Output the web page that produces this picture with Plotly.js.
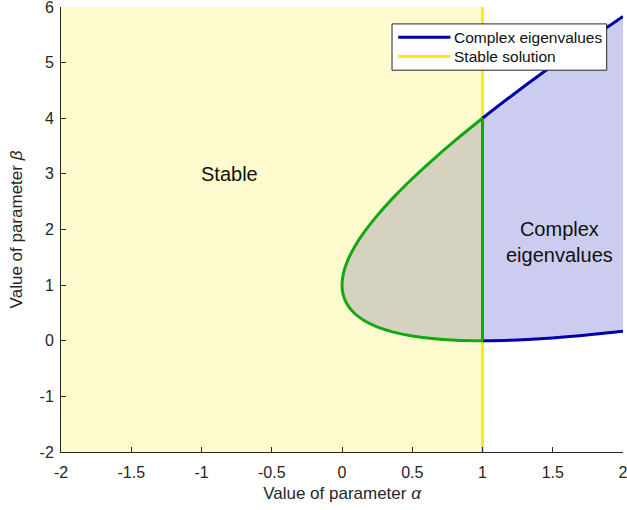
<!DOCTYPE html>
<html>
<head>
<meta charset="utf-8">
<script src="https://cdn.plot.ly/plotly-3.0.1.min.js"></script>
<style>
  html, body { margin: 0; padding: 0; background: #ffffff; }
  #chart { width: 627px; height: 510px; }
</style>
</head>
<body>
<div id="chart"></div>
<script>
// Boundary of the complex-eigenvalue region: beta on the upper and lower branch for each alpha
const alphaInner = [1.00, 0.81, 0.64, 0.49, 0.36, 0.25, 0.16, 0.09, 0.04, 0.01, 0.00];
const betaInnerLow = [0.00, 0.01, 0.04, 0.09, 0.16, 0.25, 0.36, 0.49, 0.64, 0.81, 1.00];
const betaInnerHigh = [4.00, 3.61, 3.24, 2.89, 2.56, 2.25, 1.96, 1.69, 1.44, 1.21, 1.00];

const alphaOuter = [1.00, 1.21, 1.44, 1.69, 1.96, 2.00];
const betaOuterHigh = [4.00, 4.41, 4.84, 5.29, 5.76, 5.83];
const betaOuterLow = [0.00, 0.01, 0.04, 0.09, 0.16, 0.17];

// Stable region: alpha from the left edge up to the stability limit
const stableAlpha = [-2, 1];
const betaRange = [-2, 6];
const alphaRange = [-2, 2];

const xTicks = [-2, -1.5, -1, -0.5, 0, 0.5, 1, 1.5, 2];
const xTickText = ['-2', '-1.5', '-1', '-0.5', '0', '0.5', '1', '1.5', '2'];
const yTicks = [-2, -1, 0, 1, 2, 3, 4, 5, 6];
const yTickText = ['-2', '-1', '0', '1', '2', '3', '4', '5', '6'];

const regionLabels = ['Stable', 'Complex<br>eigenvalues'];
const regionLabelAlpha = [-0.8, 1.55];
const regionLabelBeta = [3.0, 1.78];

const legendNames = ['Complex eigenvalues', 'Stable solution'];

const C_YELLOW_FILL = '#fefbcf';
const C_BLUE_FILL = '#cbccef';
const C_GRAY_FILL = '#d5d2c0';
const C_GREEN = '#12a812';
const C_BLUE = '#0000aa';
const C_YELLOW = '#ffee00';
const C_TEXT = '#262626';
const FONT = 'Liberation Sans, Arial, sans-serif';

// closed outline of the parabola-shaped region left of alpha = 1
const innerPathX = alphaInner.concat(alphaInner.slice().reverse());
const innerPathY = betaInnerLow.concat(betaInnerHigh.slice().reverse());
// curve only (lower branch, vertex, upper branch)
const innerCurveX = alphaInner.concat(alphaInner.slice(0, -1).reverse());
const innerCurveY = betaInnerLow.concat(betaInnerHigh.slice(0, -1).reverse());

const outerPathX = alphaOuter.concat(alphaOuter.slice().reverse());
const outerPathY = betaOuterHigh.concat(betaOuterLow.slice().reverse());

const traces = [
  { // stable half-plane
    x: [stableAlpha[0], stableAlpha[1], stableAlpha[1], stableAlpha[0]],
    y: [betaRange[0], betaRange[0], betaRange[1], betaRange[1]],
    mode: 'lines', fill: 'toself', fillcolor: C_YELLOW_FILL,
    line: { width: 0 }, hoverinfo: 'skip', showlegend: false
  },
  { // stable and complex
    x: innerPathX, y: innerPathY,
    mode: 'lines', fill: 'toself', fillcolor: C_GRAY_FILL,
    line: { width: 0 }, hoverinfo: 'skip', showlegend: false
  },
  { // complex only
    x: outerPathX, y: outerPathY,
    mode: 'lines', fill: 'toself', fillcolor: C_BLUE_FILL,
    line: { width: 0 }, hoverinfo: 'skip', showlegend: false
  },
  { // stability limit
    x: [stableAlpha[1], stableAlpha[1]], y: betaRange,
    mode: 'lines', line: { color: C_YELLOW, width: 3 },
    hoverinfo: 'skip', showlegend: false
  },
  {
    x: alphaOuter, y: betaOuterHigh,
    mode: 'lines', line: { color: C_BLUE, width: 3, shape: 'spline' },
    hoverinfo: 'skip', showlegend: false
  },
  {
    x: alphaOuter, y: betaOuterLow,
    mode: 'lines', line: { color: C_BLUE, width: 3, shape: 'spline' },
    hoverinfo: 'skip', showlegend: false
  },
  {
    x: innerCurveX, y: innerCurveY,
    mode: 'lines', line: { color: C_GREEN, width: 3, shape: 'spline', smoothing: 1 },
    hoverinfo: 'skip', showlegend: false
  },
  {
    x: [alphaInner[0], alphaInner[0]], y: [betaInnerLow[0], betaInnerHigh[0]],
    mode: 'lines', line: { color: C_GREEN, width: 3 },
    hoverinfo: 'skip', showlegend: false
  }
];

// legend drawn as a box in paper coordinates
const lgX0 = 0.589, lgX1 = 0.971, lgY0 = 0.858, lgY1 = 0.962;
const lgLineX0 = 0.600, lgLineX1 = 0.693;
const lgRowY = [0.932, 0.889];
const legendColors = [C_BLUE, C_YELLOW];

const shapes = [
  { type: 'rect', xref: 'paper', yref: 'paper', x0: lgX0, x1: lgX1, y0: lgY0, y1: lgY1,
    fillcolor: '#ffffff', line: { color: '#262626', width: 1 } }
];
legendColors.forEach((c, i) => {
  shapes.push({ type: 'line', xref: 'paper', yref: 'paper',
    x0: lgLineX0, x1: lgLineX1, y0: lgRowY[i], y1: lgRowY[i],
    line: { color: c, width: 3 } });
});

const annotations = [];
regionLabels.forEach((t, i) => {
  annotations.push({ x: regionLabelAlpha[i], y: regionLabelBeta[i], xref: 'x', yref: 'y',
    text: t, showarrow: false, font: { family: FONT, size: 20, color: '#111111' } });
});
legendNames.forEach((t, i) => {
  annotations.push({ x: lgLineX1 + 0.002, y: lgRowY[i], xref: 'paper', yref: 'paper',
    xanchor: 'left', yanchor: 'middle', text: t, showarrow: false,
    font: { family: FONT, size: 15.5, color: '#111111' } });
});

const axisCommon = {
  showgrid: false, zeroline: false, showline: true,
  linecolor: C_TEXT, linewidth: 1,
  ticks: 'inside', ticklen: 5, tickcolor: C_TEXT, tickwidth: 1,
  tickfont: { family: FONT, size: 16, color: C_TEXT },
  ticklabeloverflow: 'allow',
  fixedrange: true
};

const layout = {
  width: 627, height: 510,
  margin: { l: 61, r: 4, t: 7, b: 58 },
  paper_bgcolor: '#ffffff', plot_bgcolor: '#ffffff',
  showlegend: false,
  xaxis: Object.assign({}, axisCommon, {
    range: alphaRange, tickmode: 'array', tickvals: xTicks, ticktext: xTickText,
    ticklabelstandoff: 6,
    title: { text: 'Value of parameter <i>α</i>', font: { family: FONT, size: 17, color: C_TEXT }, standoff: 6 }
  }),
  yaxis: Object.assign({}, axisCommon, {
    range: betaRange, tickmode: 'array', tickvals: yTicks, ticktext: yTickText,
    ticklabelstandoff: 3,
    title: { text: 'Value of parameter <i>β</i>', font: { family: FONT, size: 17, color: C_TEXT }, standoff: 12 }
  }),
  shapes: shapes,
  annotations: annotations
};

Plotly.newPlot('chart', traces, layout, { staticPlot: true, displayModeBar: false });
</script>
</body>
</html>
